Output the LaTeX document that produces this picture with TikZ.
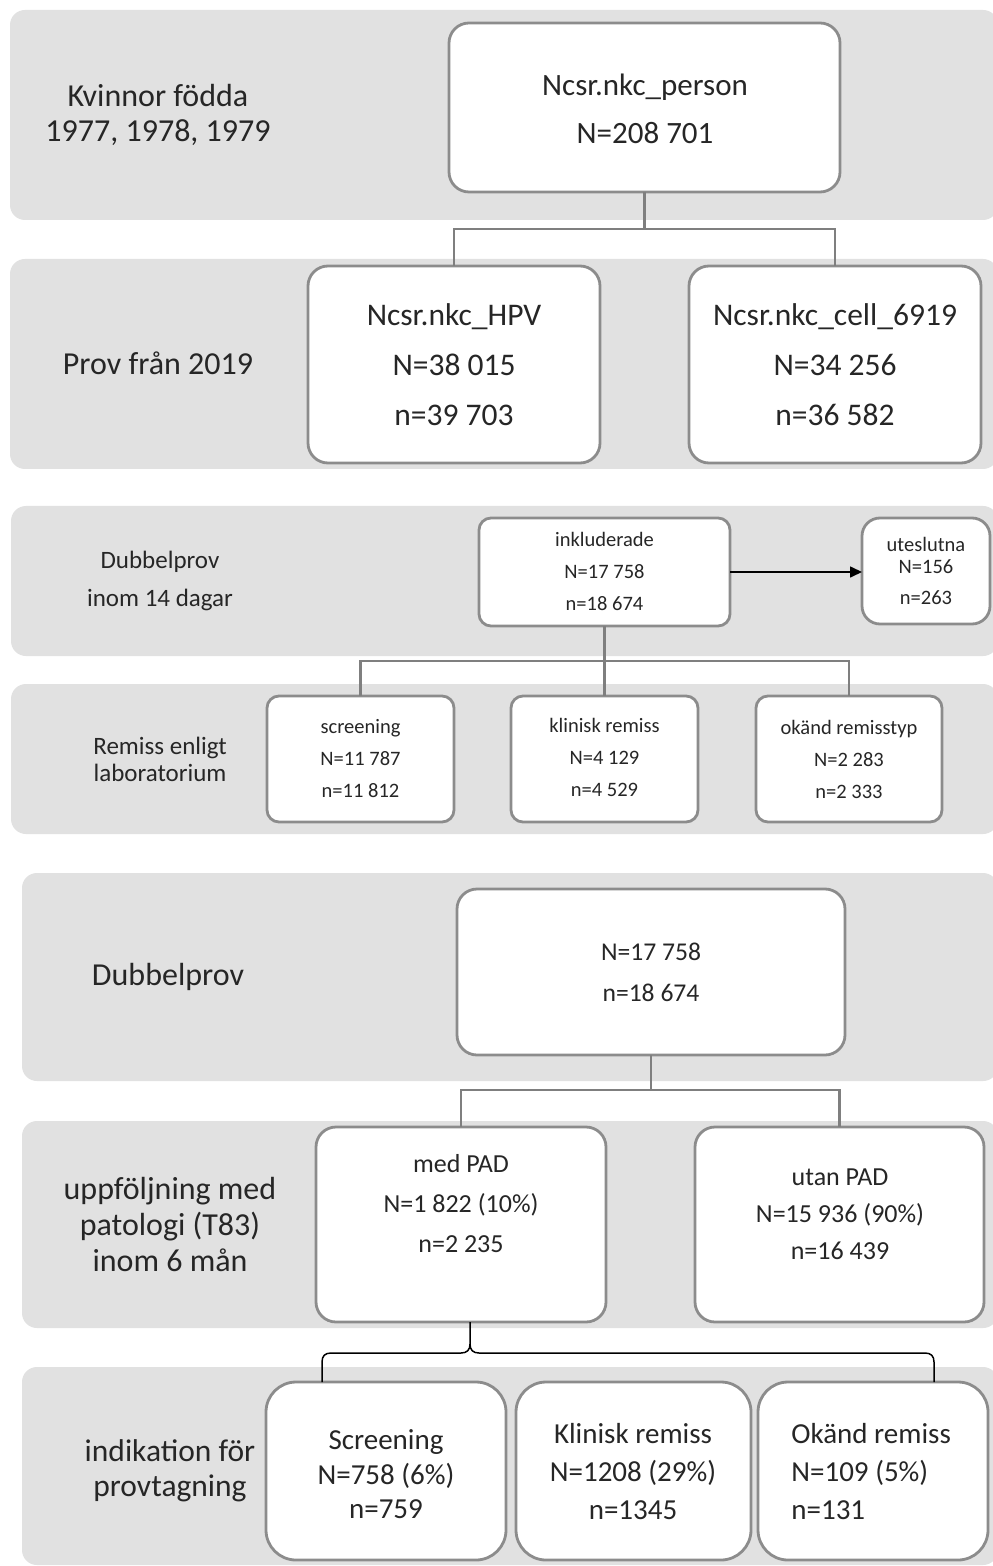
\documentclass[tikz,border=0pt]{standalone}
\usepackage{fontspec}
\setmainfont{Carlito}
\usetikzlibrary{fit,arrows.meta}
\definecolor{bandgray}{RGB}{225,225,225}
\definecolor{boxline}{RGB}{140,140,140}
\definecolor{conn}{RGB}{127,127,127}
\definecolor{txtc}{RGB}{38,38,38}
\begin{document}
\begin{tikzpicture}[x=0.5pt,y=-0.5pt,
  band/.style={fill=bandgray, rounded corners=7.5pt},
  box/.style={draw=boxline, fill=white, line width=1.4pt, rounded corners=10pt, inner sep=0pt, outer sep=0pt},
  sbox/.style={box, rounded corners=6pt},
  lbox/.style={box, rounded corners=15pt},
  t/.style 2 args={font=\fontsize{#1}{#2}\selectfont, text=txtc, align=center, inner sep=0pt},
  link/.style={draw=conn, line width=1.2pt},
  bracel/.style={draw=black, line width=0.75pt},
]
\fill[white] (0,0) rectangle (992,1566);
\useasboundingbox (0,0) rectangle (992,1566);
% bands
\fill[band] (10,10) rectangle (998,220);
\fill[band] (10,259) rectangle (998,469);
\fill[band] (11,506) rectangle (998,656);
\fill[band] (11,684) rectangle (998,834);
\fill[band] (22,873) rectangle (998,1081);
\fill[band] (22,1121) rectangle (998,1328);
\fill[band] (22,1367) rectangle (998,1565);

% boxes
\node[box, fit={(449,23) (840,192)}] (person) {};
\node[box, fit={(308,266) (600,463)}] (hpv) {};
\node[box, fit={(689,266) (981,463)}] (cell) {};
\node[sbox, fit={(479,518) (730,626)}] (incl) {};
\node[box, rounded corners=9pt, fit={(862,518) (990,624)}] (excl) {};
\node[sbox, fit={(267,696) (454,822)}] (scr) {};
\node[sbox, fit={(511,696) (698,822)}] (klin) {};
\node[sbox, fit={(756,696) (942,822)}] (okd) {};
\node[box, fit={(457,889) (845,1055)}] (dub) {};
\node[box, fit={(316,1127) (606,1322)}] (med) {};
\node[box, fit={(695,1127) (984,1322)}] (utan) {};
\node[lbox, fit={(266,1382) (506,1560)}] (scrs) {};
\node[lbox, fit={(516,1382) (751,1560)}] (klins) {};
\node[lbox, fit={(758,1382) (988,1560)}] (oks) {};

% connectors
\draw[link] (person.south) -- ++(0,37) coordinate (j1);
\draw[link] (j1) -| (hpv.north);
\draw[link] (j1) -| (cell.north);
\draw[link] (incl.south) -- ++(0,35) coordinate (j2);
\draw[link] (j2) -| (scr.north);
\draw[link] (j2) -- (klin.north);
\draw[link] (j2) -| (okd.north);
\draw[link] (dub.south) -- ++(0,35) coordinate (j3);
\draw[link] (j3) -| (med.north);
\draw[link] (j3) -| (utan.north);
\draw[-{Triangle[length=6pt,width=5.5pt]}, line width=0.8pt, black] (incl.east) -- (incl.east -| excl.west);

% brace
\coordinate (bt) at (470,1322);
\coordinate (btip) at (470,1344);
\coordinate (bl) at (322,1382);
\coordinate (br) at (934,1382);
\draw[bracel] (bt) -- (btip) .. controls (470,1350) and (467,1353) .. (461,1353) -- (331,1353) .. controls (325,1353) and (322,1356) .. (322,1362) -- (bl);
\draw[bracel] (btip) .. controls (470,1350) and (473,1353) .. (479,1353) -- (925,1353) .. controls (931,1353) and (934,1356) .. (934,1362) -- (br);

% left labels
\node[t={16}{17.5}] (l1) at (158,114.5) {Kvinnor födda\\1977, 1978, 1979};
\node[t={16}{16}] (l2) at (158,363) {Prov från 2019};
\node[t={12.5}{19}] (l3) at (160,581) {Dubbelprov\\inom 14 dagar};
\node[t={12.5}{13.5}] (l4) at (160,759.5) {Remiss enligt\\laboratorium};
\node[t={16}{16}] (l5) at (168,977) {Dubbelprov};
\node[t={16}{18}] (l6) at (170,1224) {uppföljning med\\patologi (T83)\\inom 6 mån};
\node[t={15.75}{17.5}] (l7) at (170,1470.5) {indikation för\\provtagning};

% box texts
\node[t={15.5}{24}] (tperson) at (645,109) {Ncsr.nkc\_person\\N=208 701};
\node[t={15.75}{25}] (thpv) at (454,365) {Ncsr.nkc\_HPV\\N=38 015\\n=39 703};
\node[t={15.75}{25}] (tcell) at (835,365) {Ncsr.nkc\_cell\_6919\\N=34 256\\n=36 582};
\node[t={10.25}{16}] (tincl) at (604.5,571) {inkluderade\\N=17 758\\n=18 674};
\node[t={10.25}{11}] (texcl) at (926,571) {uteslutna\\N=156\\[4.5pt]n=263};
\node[t={10.25}{16}] (tscr) at (360.5,758.5) {screening\\N=11 787\\n=11 812};
\node[t={10.25}{16}] (tklin) at (604.5,757) {klinisk remiss\\N=4 129\\n=4 529};
\node[t={10.25}{16}] (tokd) at (849,759) {okänd remisstyp\\N=2 283\\n=2 333};
\node[t={12.8}{20.5}] (tdub) at (651,972.5) {N=17 758\\n=18 674};
\node[t={13}{20}] (tmed) at (461,1204) {med PAD\\N=1 822 (10\%)\\n=2 235};
\node[t={13}{18.5}] (tutan) at (840,1214) {utan PAD\\N=15 936 (90\%)\\n=16 439};
\node[t={14.5}{17.25}] (tscrs) at (386,1474.5) {Screening\\N=758 (6\%)\\n=759};
\node[t={14.5}{19}] (tklins) at (633,1472) {Klinisk remiss\\N=1208 (29\%)\\n=1345};
\node[t={14.5}{19}, align=left, anchor=west] (toks) at (791,1472) {Okänd remiss\\N=109 (5\%)\\n=131};
\end{tikzpicture}
\end{document}
